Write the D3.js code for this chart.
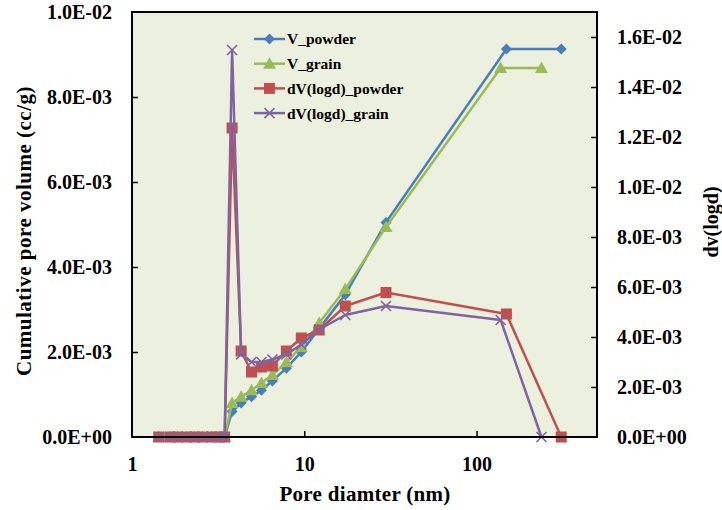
<!DOCTYPE html>
<html>
<head>
<meta charset="utf-8">
<script src="https://cdn.jsdelivr.net/npm/d3@7/dist/d3.min.js"></script>
<style>
body{margin:0;background:#fff;}
text{font-family:"Liberation Serif","Times New Roman",serif;font-weight:bold;fill:#000;}
</style>
</head>
<body>
<svg id="chart" width="722" height="510"></svg>
<script>
// ---- data ----
const dPowder = [1.43,1.66,1.84,2.08,2.31,2.57,2.90,3.22,3.45,3.81,4.30,4.94,5.64,6.53,7.87,9.61,12.2,17.3,29.8,149,310];
const dGrain  = [1.43,1.66,1.84,2.08,2.31,2.57,2.90,3.22,3.45,3.81,4.30,4.94,5.64,6.53,7.87,9.61,12.2,17.3,29.8,138,238];
const vPowder = [0,0,0,0,0,0,0,0,0,0.00060,0.00080,0.00095,0.00110,0.00132,0.00162,0.00200,0.00255,0.00335,0.00505,0.00913,0.00913];
const vGrain  = [0,0,0,0,0,0,0,0,0,0.00080,0.00095,0.00110,0.00127,0.00146,0.00176,0.00212,0.00268,0.00348,0.00494,0.00868,0.00868];
const dvPowder= [0,0,0,0,0,0,0,0,0,0.01236,0.00344,0.00260,0.00280,0.00284,0.00344,0.00396,0.00428,0.00524,0.00578,0.00492,0];
const dvGrain = [0,0,0,0,0,0,0,0,0,0.01548,0.00330,0.00300,0.00300,0.00310,0.00330,0.00370,0.00430,0.00488,0.00524,0.00468,0];
const xTicks = [1,10,100];
const yLeftTicks = [0,0.002,0.004,0.006,0.008,0.010];
const yRightTicks = [0,0.002,0.004,0.006,0.008,0.010,0.012,0.014,0.016];
const seriesNames = ["V_powder","V_grain","dV(logd)_powder","dV(logd)_grain"];

const L=132,R=597,T=12,B=437;
const svg=d3.select("#chart");
const x=d3.scaleLog().domain([1,500]).range([L,R]);
const yL=d3.scaleLinear().domain([0,0.010]).range([B,T]);
const yR=d3.scaleLinear().domain([0,0.017]).range([B,T]);

function fmt(v){
  if(v===0) return "0.0E+00";
  const e=Math.floor(Math.log10(v)+1e-9);
  const m=v/Math.pow(10,e);
  return m.toFixed(1)+"E"+(e<0?"-":"+")+String(Math.abs(e)).padStart(2,"0");
}

svg.append("rect").attr("x",L).attr("y",T).attr("width",R-L).attr("height",B-T).attr("fill","#EBF1DE");

// axes
const axL=d3.axisLeft(yL).tickValues(yLeftTicks).tickSize(-6).tickPadding(20).tickFormat(fmt);
const gL=svg.append("g").attr("transform",`translate(${L},0)`).call(axL);
const axR=d3.axisRight(yR).tickValues(yRightTicks).tickSize(-6).tickPadding(20).tickFormat(fmt);
const gR=svg.append("g").attr("transform",`translate(${R},0)`).call(axR);
const axB=d3.axisBottom(x).tickValues(xTicks).tickSize(-6).tickPadding(20).tickFormat(d3.format("d"));
const gB=svg.append("g").attr("transform",`translate(0,${B})`).call(axB);
[gL,gR,gB].forEach(g=>{
  g.select(".domain").remove();
  g.selectAll(".tick line").attr("stroke","#000").attr("stroke-width",1.5);
  g.selectAll(".tick text").style("font-size","20px").style("font-family","Liberation Serif").style("font-weight","bold");
});
gB.selectAll(".tick line").filter(d=>d===1).remove();
gL.selectAll(".tick line").filter(d=>d===0||d===0.010).remove();
gR.selectAll(".tick line").filter(d=>d===0).remove();

// series
const colors=["#4A7EBB","#9BBB59","#C0504D","#8064A2"];
const data=[
  {xs:dPowder,ys:vPowder,y:yL,c:colors[0],m:"diamond"},
  {xs:dGrain,ys:vGrain,y:yL,c:colors[1],m:"triangle"},
  {xs:dPowder,ys:dvPowder,y:yR,c:colors[2],m:"square"},
  {xs:dGrain,ys:dvGrain,y:yR,c:colors[3],m:"x"}
];
function marker(g,type,cx,cy,c){
  if(type==="diamond"){
    g.append("path").attr("d",`M${cx},${cy-5.5}L${cx+5.5},${cy}L${cx},${cy+5.5}L${cx-5.5},${cy}Z`).attr("fill",c);
  }else if(type==="triangle"){
    g.append("path").attr("d",`M${cx},${cy-6.5}L${cx+6.5},${cy+5}L${cx-6.5},${cy+5}Z`).attr("fill",c);
  }else if(type==="square"){
    g.append("rect").attr("x",cx-5.5).attr("y",cy-5.5).attr("width",11).attr("height",11).attr("fill",c);
  }else{
    g.append("path").attr("d",`M${cx-5},${cy-5}L${cx+5},${cy+5}M${cx+5},${cy-5}L${cx-5},${cy+5}`).attr("stroke",c).attr("stroke-width",1.6);
  }
}
data.forEach(s=>{
  const g=svg.append("g");
  const pts=s.xs.map((d,i)=>[x(d),s.y(s.ys[i])]);
  g.append("path").attr("d",d3.line()(pts)).attr("fill","none").attr("stroke",s.c).attr("stroke-width",2.5).attr("stroke-linejoin","round");
  pts.forEach(p=>marker(g,s.m,p[0],p[1],s.c));
});

// frame
svg.append("rect").attr("x",L).attr("y",T).attr("width",R-L).attr("height",B-T).attr("fill","none").attr("stroke","#000").attr("stroke-width",2);

// legend
const lg=svg.append("g");
seriesNames.forEach((n,i)=>{
  const yy=39+i*24.7;
  lg.append("line").attr("x1",254).attr("x2",285).attr("y1",yy).attr("y2",yy).attr("stroke",colors[i]).attr("stroke-width",2.5);
  marker(lg,data[i].m,269.5,yy,colors[i]);
  lg.append("text").attr("x",287).attr("y",yy).attr("dy","0.35em").style("font-size","15.5px").text(n);
});

// titles
svg.append("text").attr("transform","translate(24,231) rotate(-90)").attr("text-anchor","middle").attr("dy","0.35em").style("font-size","21px").style("letter-spacing","0.5px").text("Cumulative pore volume (cc/g)");
svg.append("text").attr("transform","translate(711,222) rotate(-90)").attr("text-anchor","middle").attr("dy","0.35em").style("font-size","20px").text("dv(logd)");
svg.append("text").attr("x",365).attr("y",494).attr("text-anchor","middle").attr("dy","0.35em").style("font-size","21px").style("letter-spacing","0.3px").text("Pore diamter (nm)");
</script>
</body>
</html>
